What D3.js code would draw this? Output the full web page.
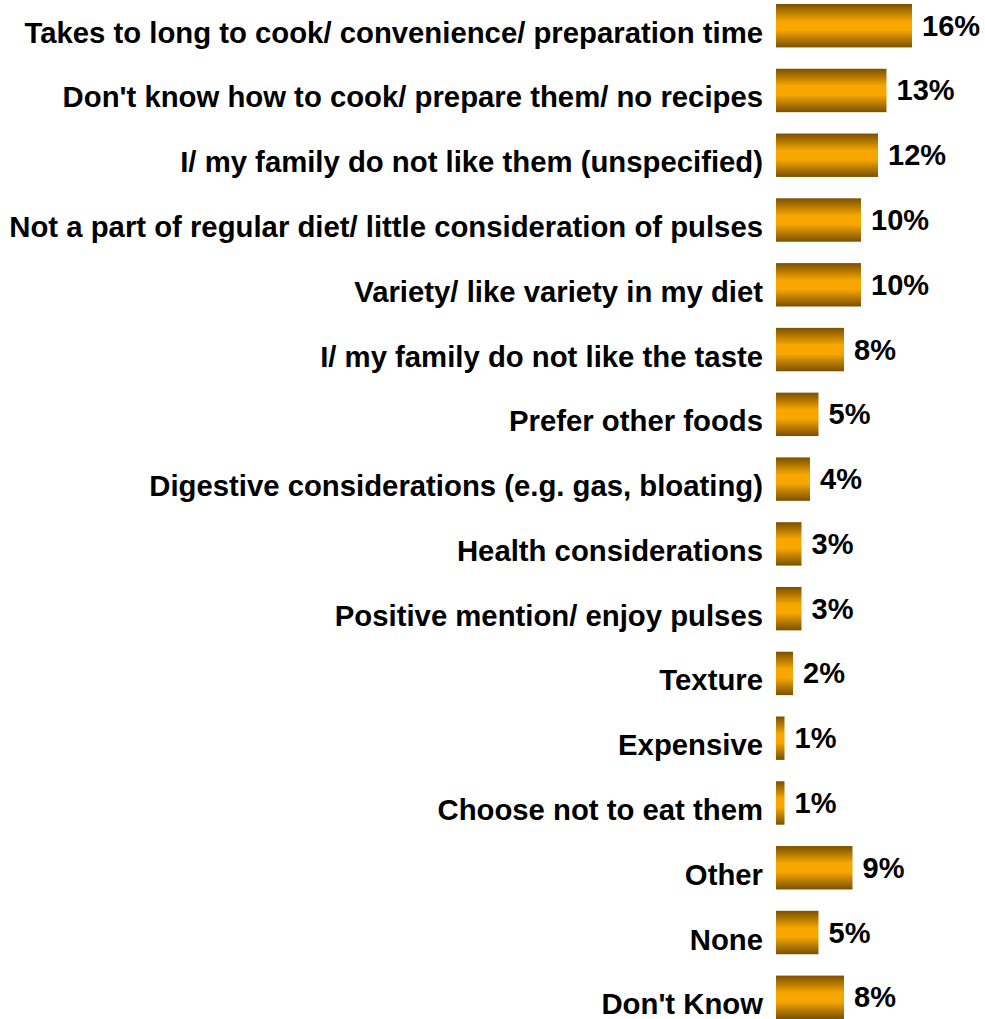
<!DOCTYPE html>
<html>
<head>
<meta charset="utf-8">
<script src="https://cdn.jsdelivr.net/npm/d3@7"></script>
<style>
  html, body { margin: 0; padding: 0; background: #fff; }
  svg { display: block; }
  text { font-family: "Liberation Sans", Arial, Helvetica, sans-serif; font-weight: bold; fill: #000; }
</style>
</head>
<body>
<svg id="chart" width="985" height="1019"></svg>
<script>
// Reasons given for not eating pulses more often (% of respondents)
const categories = [
  "Takes to long to cook/ convenience/ preparation time",
  "Don't know how to cook/ prepare them/ no recipes",
  "I/ my family do not like them (unspecified)",
  "Not a part of regular diet/ little consideration of pulses",
  "Variety/ like variety in my diet",
  "I/ my family do not like the taste",
  "Prefer other foods",
  "Digestive considerations (e.g. gas, bloating)",
  "Health considerations",
  "Positive mention/ enjoy pulses",
  "Texture",
  "Expensive",
  "Choose not to eat them",
  "Other",
  "None",
  "Don't Know"
];
const values = [16, 13, 12, 10, 10, 8, 5, 4, 3, 3, 2, 1, 1, 9, 5, 8];
const valueLabels = values.map(v => v + "%");

const data = categories.map((c, i) => ({ category: c, value: values[i], label: valueLabels[i] }));

const svg = d3.select("#chart");

const x = d3.scaleLinear().domain([0, 20]).range([776, 946]);
const y = d3.scaleBand()
  .domain(categories)
  .range([4, 1019])
  .paddingInner(0.33)
  .paddingOuter(0);

// vertical bronze gradient: dark edges, bright orange centre
const defs = svg.append("defs");
const grad = defs.append("linearGradient")
  .attr("id", "barGrad")
  .attr("x1", 0).attr("y1", 0).attr("x2", 0).attr("y2", 1);
[
  [0, "#7a5000"],
  [0.4, "#f8a700"],
  [0.6, "#f8a700"],
  [1, "#7a5000"]
].forEach(([o, c]) => grad.append("stop").attr("offset", o).attr("stop-color", c));

const rows = svg.append("g").selectAll("g.row")
  .data(data)
  .join("g")
  .attr("class", "row");

rows.append("rect")
  .attr("x", x(0))
  .attr("y", d => y(d.category))
  .attr("width", d => x(d.value) - x(0))
  .attr("height", y.bandwidth())
  .attr("fill", "url(#barGrad)");

rows.append("text")
  .attr("x", 763)
  .attr("y", d => y(d.category) + y.bandwidth() / 2 + 17)
  .attr("text-anchor", "end")
  .attr("font-size", 29.3)
  .text(d => d.category);

rows.append("text")
  .attr("x", d => x(d.value) + 10)
  .attr("y", d => y(d.category) + y.bandwidth() / 2 + 10)
  .attr("font-size", 29)
  .text(d => d.label);
</script>
</body>
</html>
